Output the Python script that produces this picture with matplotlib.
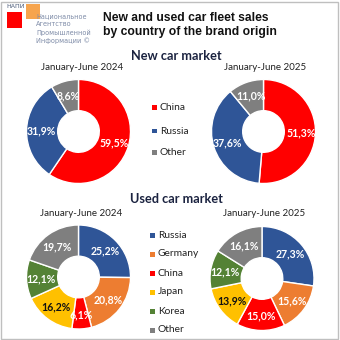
import matplotlib
matplotlib.use("Agg")
import matplotlib.pyplot as plt
from matplotlib.patches import Rectangle

# ---- data ----
new_cats = ["China", "Russia", "Other"]
new_2024 = [59.5, 31.9, 8.6]
new_2025 = [51.3, 37.6, 11.0]
used_cats = ["Russia", "Germany", "China", "Japan", "Korea", "Other"]
used_2024 = [25.2, 20.8, 6.1, 16.2, 12.1, 19.7]
used_2025 = [27.3, 15.6, 15.0, 13.9, 12.1, 16.1]
period_labels = ["January-June 2024", "January-June 2025"]
title = "New and used car fleet sales\nby country of the brand origin"
section_titles = ["New car market", "Used car market"]
logo_lines = ["Национальное", "Агентство", "Промышленной", "Информации ©"]

colors = {"China": "#FF0000", "Russia": "#2F5597", "Other": "#7F7F7F",
          "Germany": "#ED7D31", "Japan": "#FFC000", "Korea": "#548235"}
dark_label = {"Japan"}

W = H = 340
fig = plt.figure(figsize=(3.4, 3.4), dpi=100)
fig.patch.set_facecolor("white")
FONT = "Lato"

def fx(px):
    return px / W

def fy(py):
    return 1 - py / H

# border
fig.add_artist(Rectangle((0.0015, 0.0015), 0.994, 0.994, transform=fig.transFigure,
                         fill=False, edgecolor="#BFBFBF", linewidth=1.0))

# logo
fig.add_artist(Rectangle((fx(7), fy(28)), fx(15), 16 / H, transform=fig.transFigure,
                         facecolor="#FF0000", edgecolor="none"))
fig.add_artist(Rectangle((fx(26), fy(19)), fx(14), 15 / H, transform=fig.transFigure,
                         facecolor="#F59A3A", edgecolor="none", alpha=0.9))
fig.text(fx(6), fy(7), "НАПИ", fontsize=4.5, color="#4A5A78", family="DejaVu Sans",
         va="center", ha="left")
for i, line in enumerate(logo_lines):
    fig.text(fx(36), fy(16 + 8.3 * i), line, fontsize=4.7, color="#7F8CA8",
             family="DejaVu Sans", va="center", ha="left")

# title
fig.text(fx(103), fy(25), title, fontsize=8.7, fontweight="bold", color="#111111",
         family="Liberation Sans", ha="left", va="center", linespacing=1.3)
fig.text(fx(176), fy(56), section_titles[0], fontsize=9.2, fontweight="bold",
         color="#1B2340", family=FONT, ha="center", va="center")
fig.text(fx(176), fy(199), section_titles[1], fontsize=9.2, fontweight="bold",
         color="#1B2340", family=FONT, ha="center", va="center")


def donut(cx, cy, R, cats, vals):
    ax = fig.add_axes([fx(cx - R), fy(cy + R), 2 * R / W, 2 * R / H])
    cols = [colors[c] for c in cats]
    wedges, texts, autotexts = ax.pie(
        vals, colors=cols, startangle=90, counterclock=False,
        autopct=lambda p: f"{p:.1f}%".replace(".", ","), pctdistance=0.72,
        wedgeprops=dict(width=0.6, edgecolor="white", linewidth=1.0),
        textprops=dict(fontsize=7.6, fontweight="bold", family=FONT))
    for c, t, v in zip(cats, autotexts, vals):
        t.set_text(f"{v:.1f}%".replace(".", ","))
        t.set_color("#111111" if c in dark_label else "white")
    ax.set_xlim(-1, 1)
    ax.set_ylim(-1, 1)
    ax.set_aspect("equal")
    ax.axis("off")
    return ax


donut(78.5, 131.5, 52, new_cats, new_2024)
donut(263.5, 131.5, 52, new_cats, new_2025)
donut(78.5, 277, 52, used_cats, used_2024)
donut(262, 278.5, 52, used_cats, used_2025)

for x, p in zip([82, 265], period_labels):
    fig.text(fx(x), fy(68), p, fontsize=7.0, color="#222222", family=FONT,
             ha="center", va="center")
    fig.text(fx(x - 1), fy(213), p, fontsize=7.0, color="#222222", family=FONT,
             ha="center", va="center")


def legend(x, ys, cats):
    for c, y in zip(cats, ys):
        fig.add_artist(Rectangle((fx(x - 2.5), fy(y + 2.5)), 5 / W, 5 / H,
                                 transform=fig.transFigure, facecolor=colors[c],
                                 edgecolor="none"))
        fig.text(fx(x + 6), fy(y), c, fontsize=7.4, color="#222222", family=FONT,
                 ha="left", va="center")


legend(154, [107, 131, 152.5], new_cats)
legend(152, [235, 254, 273, 292, 311, 330], used_cats)

fig.savefig("out.png", dpi=100, facecolor="white")
